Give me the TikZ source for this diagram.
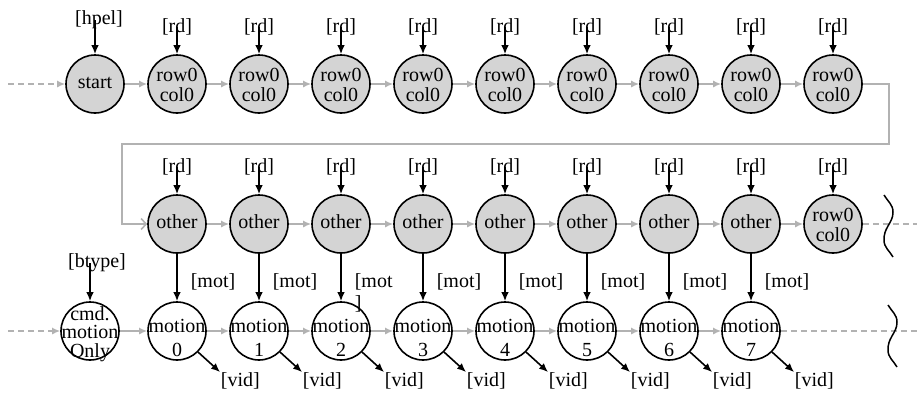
\documentclass[tikz,border=0pt]{standalone}
\usepackage{fontspec}
\setmainfont{Liberation Serif}
\usetikzlibrary{positioning,arrows.meta}

\definecolor{stfill}{RGB}{212,212,212}
\definecolor{flow}{RGB}{178,178,178}

% text of a state, kept out of the circle size
\newcommand{\cirtext}[2][-5pt]{\raisebox{#1}[0pt][0pt]{\makebox[0pt]{%
  \begin{tabular}{@{}c@{}}#2\end{tabular}}}}

\begin{document}
\begin{tikzpicture}[x=1pt, y=1pt, node distance={82pt}, line width=1.6pt,
    font=\fontsize{20}{22}\selectfont,
    main/.style = {draw, circle, minimum size=58pt, inner sep=0pt},
    rd/.style = {main, fill=stfill},
    lbl/.style = {inner sep=0pt, align=left},
    blk/.style = {-{Latex[length=9pt,width=7.5pt]}},
    gry/.style = {draw=flow, -{Latex[length=8pt,width=7pt]}},
    dsh/.style = {draw=flow, dash pattern=on 6pt off 4pt},
    squig/.pic = {\draw[line width=1.5pt] (-4,31) to[out=-60,in=90] (5,14)
        to[out=-90,in=60] (0,0) to[out=-120,in=90] (-4,-14)
        to[out=-90,in=120] (5,-31);}]

  \useasboundingbox (0,0) rectangle (917,-392);

  % read states
  \node[rd] (S) at (95,-84) {\cirtext{start}};
  \node[rd, font=\fontsize{20}{20}\selectfont] (R1) [right of=S] {\cirtext[-9pt]{row0\\col0}};
  \foreach \i [count=\j] in {2,...,9}
    \node[rd, font=\fontsize{20}{20}\selectfont] (R\i) [right of=R\j] {\cirtext[-9pt]{row0\\col0}};

  \node[rd] (O1) at (177,-224) {\cirtext{other}};
  \foreach \i [count=\j] in {2,...,8}
    \node[rd] (O\i) [right of=O\j] {\cirtext{other}};
  \node[rd, font=\fontsize{20}{20}\selectfont] (R10) [right of=O8] {\cirtext[-9pt]{row0\\col0}};

  % motion states
  \node[main, font=\fontsize{20}{16}\selectfont] (C) at (90,-331) {\cirtext[-8.5pt]{cmd.\\motion\\Only}};
  \foreach \i [count=\k from 0] in {1,...,8}
    \node[main, font=\fontsize{20}{24}\selectfont] (M\k) [below of=O\i, node distance=107pt] {\cirtext[-14pt]{motion\\\k}};

  % inputs
  \node[lbl] (H) [above of=S, node distance=64pt, xshift=4pt] {[hpel]};
  \draw[blk] (H.center -| S) -- (S);
  \node[lbl] (B) [above of=C, node distance=68pt, xshift=7pt] {[btype]};
  \draw[blk] (B.center -| C) -- (C);
  \foreach \i in {1,...,9} {
    \node[lbl] (a\i) [above of=R\i, node distance=57pt] {[rd]};
    \draw[blk] (a\i.center) -- (R\i);
  }
  \foreach \i in {1,...,8} {
    \node[lbl] (b\i) [above of=O\i, node distance=57pt] {[rd]};
    \draw[blk] (b\i.center) -- (O\i);
  }
  \node[lbl] (b9) [above of=R10, node distance=57pt] {[rd]};
  \draw[blk] (b9.center) -- (R10);

  % mot / vid
  \foreach \i [count=\k from 0] in {1,...,8} {
    \draw[blk] (O\i) -- (M\k);
    \node[lbl, below right=20pt and 22pt of M\k.south east] (v\k) {[vid]};
    \draw[blk] (M\k.south east) -- (v\k.north west);
  }
  \foreach \i in {1,2,4,5,6,7,8}
    \node[lbl, below right=19pt and 13pt of O\i.south] (t\i) {[mot]};
  \node[lbl, below right=19pt and 13pt of O3.south] (t3) {[mot\\]};

  % sequencing
  \draw[gry] (S) -- (R1);
  \foreach \i [count=\j] in {2,...,9}
    \draw[gry] (R\j) -- (R\i);
  \foreach \i [count=\j] in {2,...,8}
    \draw[gry] (O\j) -- (O\i);
  \draw[gry] (O8) -- (R10);
  \draw[gry] (C) -- (M0);
  \foreach \i [count=\j from 0] in {1,...,7}
    \draw[gry] (M\j) -- (M\i);
  \draw[draw=flow, -{Straight Barb[length=5pt,width=11pt]}]
    (R9.east) -- ++(26,0) -- ++(0,-60) -| ([xshift=-25pt]O1.west) -- (O1.west);

  % entry / exit
  \coordinate (inR) at (8,-84);
  \coordinate (inC) at (8,-331);
  \draw[dsh, -{Latex[length=8pt,width=7pt]}] (inR) -- (S);
  \draw[dsh, -{Latex[length=8pt,width=7pt]}] (inC) -- (C);
  \draw[dsh] (R10.east) -- ++(56,0);
  \draw[dsh] (M7.east) -- ++(138,0);
  \pic at (888,-226) {squig};
  \pic at (892,-336) {squig};
\end{tikzpicture}
\end{document}
